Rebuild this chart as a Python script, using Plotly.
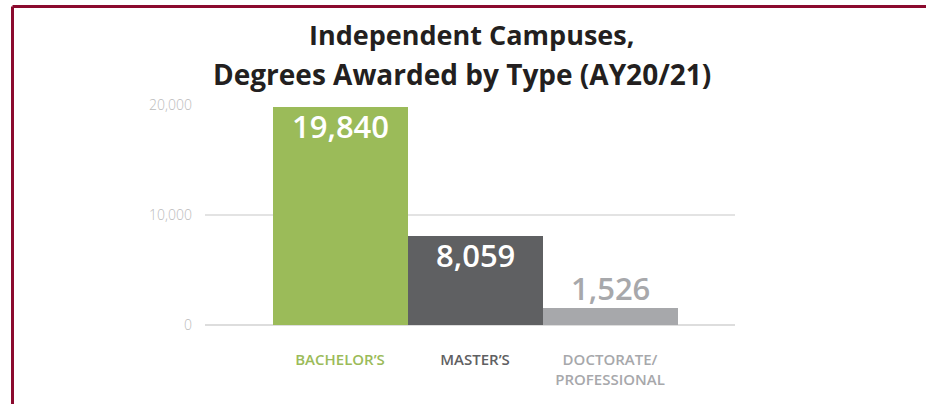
import plotly.graph_objects as go

categories = ["BACHELOR'S", "MASTER'S", "DOCTORATE/<br>PROFESSIONAL"]
degrees = [19840, 8059, 1526]
bar_colors = ["#9bbb59", "#5f6062", "#a7a8ab"]
label_colors = ["#ffffff", "#ffffff", "#a7a8ab"]
label_inside = [True, True, False]
y_ticks = [0, 10000, 20000]
title_lines = ["Independent Campuses,", "Degrees Awarded by Type (AY20/21)"]

W, H = 926, 404
L, R, T, B = 205, 735, 105, 325


def px_x(p):
    return (p - L) / (R - L)


def px_y(p):
    return (B - p) / (B - T)


fig = go.Figure()
fig.add_trace(go.Bar(
    x=list(range(len(categories))),
    y=degrees,
    marker=dict(color=bar_colors, line=dict(width=0)),
    hoverinfo="skip",
))

tick_text = [
    f"<span style='color:{c}'>{t.replace(chr(39), '’')}</span>"
    for t, c in zip(categories, bar_colors)
]

# value labels: inside the top of tall bars, above the short one
annotations = [
    dict(text=f"{v:,}", x=i, y=v, xref="x", yref="y",
         yanchor="top" if inside else "bottom",
         yshift=4 if inside else -3,
         showarrow=False,
         font=dict(family="Open Sans", size=31, color=c, weight=600))
    for i, (v, c, inside) in enumerate(zip(degrees, label_colors, label_inside))
]

# title as two separately placed lines (wider line spacing than plotly's default)
annotations += [
    dict(text=f"<b>{line}</b>", xref="paper", yref="paper",
         x=px_x(xc), y=px_y(yc), xanchor="center", yanchor="middle",
         showarrow=False,
         font=dict(family="Open Sans", size=sz, color="#231f20"))
    for line, xc, yc, sz in zip(title_lines, [471, 462], [34, 74], [27, 28])
]

fig.update_layout(
    width=W, height=H,
    margin=dict(l=L, r=W - R, t=T, b=H - B),
    paper_bgcolor="white", plot_bgcolor="white",
    showlegend=False,
    bargap=0,
    annotations=annotations,
    xaxis=dict(
        range=[-1, (R - 340) / 135],
        tickvals=list(range(len(categories))),
        ticktext=tick_text,
        tickfont=dict(family="Open Sans", size=15, weight=600),
        showgrid=False, zeroline=False, showline=False,
        ticks="", ticklabelstandoff=24,
    ),
    yaxis=dict(
        range=[0, 20000],
        tickvals=y_ticks,
        tickformat=",",
        tickfont=dict(family="Open Sans", size=14, color="#bbbbbb", weight=300),
        showgrid=True, gridcolor="#e3e3e3", gridwidth=1.5,
        zeroline=True, zerolinecolor="#dddddd", zerolinewidth=2,
        showline=False, ticks="", ticklabelstandoff=12,
    ),
    shapes=[
        dict(type="line", xref="paper", yref="paper",
             x0=px_x(12.5), x1=px_x(930), y0=px_y(6.5), y1=px_y(6.5),
             line=dict(color="#8b0a2e", width=3)),
        dict(type="line", xref="paper", yref="paper",
             x0=px_x(12.5), x1=px_x(12.5), y0=px_y(6.5), y1=px_y(410),
             line=dict(color="#8b0a2e", width=3)),
    ],
)

fig.write_html("out.html", config={"displayModeBar": False},
               post_script="document.body.style.margin='0';")
